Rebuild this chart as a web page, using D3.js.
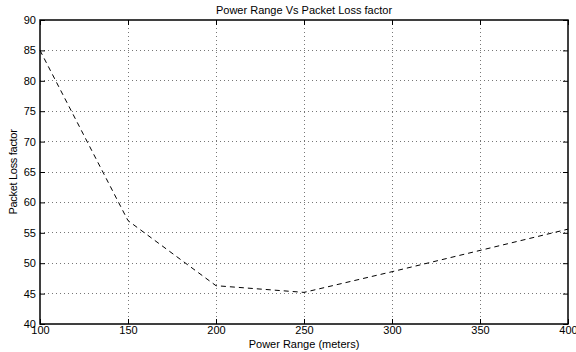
<!DOCTYPE html>
<html>
<head>
<meta charset="utf-8">
<script src="https://cdn.jsdelivr.net/npm/d3@7"></script>
<style>
  body { margin: 0; background: #fff; }
  text { font-family: "Liberation Sans", Arial, sans-serif; }
</style>
</head>
<body>
<div id="chart"></div>
<script>
// data
const powerRange = [100, 150, 200, 250, 300, 350, 400];
const packetLoss = [85, 57, 46.3, 45.2, 48.6, 52.1, 55.6];

const xTicks = [100, 150, 200, 250, 300, 350, 400];
const yTicks = [40, 45, 50, 55, 60, 65, 70, 75, 80, 85, 90];

const titleText = 'Power Range Vs Packet Loss factor';
const xLabelText = 'Power Range (meters)';
const yLabelText = 'Packet Loss factor';

// ------------------------------------------------------------------------
// SIZE
// ------------------------------------------------------------------------
const svgWidth = 576;
const svgHeight = 352;

const topMargin = 20;
const leftMargin = 40;
const rightMargin = 8;
const bottomMargin = 28;

const graphWidth = svgWidth - leftMargin - rightMargin;
const graphHeight = svgHeight - topMargin - bottomMargin;

const svg = d3.select('#chart').append('svg')
  .attr('width', svgWidth)
  .attr('height', svgHeight);

const g = svg.append('g')
  .attr('transform', `translate(${leftMargin},${topMargin})`);

const xScale = d3.scaleLinear()
  .domain([100, 400])
  .range([0, graphWidth]);

const yScale = d3.scaleLinear()
  .domain([40, 90])
  .range([graphHeight, 0]);

// ------------------------------------------------------------------------
// GRID (dotted)
// ------------------------------------------------------------------------
const grid = g.append('g').attr('class', 'grid');

grid.selectAll('.vgrid').data(xTicks.slice(1, -1))
  .enter().append('line')
    .attr('class', 'vgrid')
    .attr('x1', d => xScale(d)).attr('x2', d => xScale(d))
    .attr('y1', 0).attr('y2', graphHeight)
    .attr('stroke', '#777')
    .attr('stroke-width', 1)
    .attr('stroke-dasharray', '1,3')
    .attr('shape-rendering', 'crispEdges');

grid.selectAll('.hgrid').data(yTicks.slice(1, -1))
  .enter().append('line')
    .attr('class', 'hgrid')
    .attr('y1', d => yScale(d)).attr('y2', d => yScale(d))
    .attr('x1', 0).attr('x2', graphWidth)
    .attr('stroke', '#777')
    .attr('stroke-width', 1)
    .attr('stroke-dasharray', '1,3')
    .attr('shape-rendering', 'crispEdges');

// ------------------------------------------------------------------------
// AXES (ticks point inward, MATLAB style)
// ------------------------------------------------------------------------
const tickLen = 5;

const xAxis = g.append('g')
  .attr('transform', `translate(0,${graphHeight})`)
  .call(d3.axisBottom(xScale).tickValues(xTicks).tickSize(-tickLen).tickPadding(2).tickFormat(d3.format('d')));

const xAxisTop = g.append('g')
  .call(d3.axisTop(xScale).tickValues(xTicks).tickSize(-tickLen).tickFormat(''));

const yAxis = g.append('g')
  .call(d3.axisLeft(yScale).tickValues(yTicks).tickSize(-tickLen).tickPadding(4).tickFormat(d3.format('d')));

const yAxisRight = g.append('g')
  .attr('transform', `translate(${graphWidth},0)`)
  .call(d3.axisRight(yScale).tickValues(yTicks).tickSize(-tickLen).tickFormat(''));

[xAxis, xAxisTop, yAxis, yAxisRight].forEach(a => {
  a.select('.domain').remove();
  a.selectAll('.tick line').attr('stroke', '#000').attr('stroke-width', 1);
  a.selectAll('.tick text')
    .attr('font-size', 11)
    .attr('fill', '#000')
    .style('font-family', '"Liberation Sans", Arial, sans-serif');
});

// box
g.append('rect')
  .attr('x', 0).attr('y', 0)
  .attr('width', graphWidth).attr('height', graphHeight)
  .attr('fill', 'none')
  .attr('stroke', '#000')
  .attr('stroke-width', 1.5);

// ------------------------------------------------------------------------
// DATA LINE
// ------------------------------------------------------------------------
const line = d3.line()
  .x((d, i) => xScale(powerRange[i]))
  .y(d => yScale(d));

g.append('path')
  .datum(packetLoss)
  .attr('d', line)
  .attr('fill', 'none')
  .attr('stroke', '#000')
  .attr('stroke-width', 1)
  .attr('stroke-dasharray', '5,4');

// ------------------------------------------------------------------------
// LABELS
// ------------------------------------------------------------------------
svg.append('text')
  .attr('x', leftMargin + graphWidth / 2)
  .attr('y', 14)
  .attr('text-anchor', 'middle')
  .attr('font-size', 11)
  .text(titleText);

svg.append('text')
  .attr('x', leftMargin + graphWidth / 2)
  .attr('y', 348)
  .attr('text-anchor', 'middle')
  .attr('font-size', 11)
  .text(xLabelText);

svg.append('text')
  .attr('transform', `translate(17,${topMargin + graphHeight / 2}) rotate(-90)`)
  .attr('text-anchor', 'middle')
  .style('font-size', '11px')
  .style('letter-spacing', '-0.3px')
  .text(yLabelText);
</script>
</body>
</html>
